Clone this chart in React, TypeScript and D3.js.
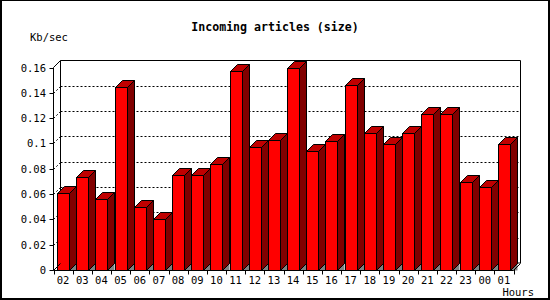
import React from "react";
import * as d3 from "d3";

const hours = ["02","03","04","05","06","07","08","09","10","11","12","13","14","15","16","17","18","19","20","21","22","23","00","01"];
const sizeValues = [0.061,0.0735,0.056,0.1445,0.0498,0.0403,0.075,0.075,0.0838,0.1572,0.0968,0.1027,0.1600,0.0940,0.1017,0.1459,0.1080,0.0995,0.1080,0.1230,0.1230,0.0693,0.0653,0.0995];
const yTicks = [0, 0.02, 0.04, 0.06, 0.08, 0.1, 0.12, 0.14, 0.16];
const gridTicks = [0.02, 0.04, 0.06, 0.08, 0.1, 0.12, 0.14];

const W = 550, H = 300;
const D = 7;
const X0 = 53.5, X1 = 513.5;
const Y0 = 270, Y1 = 67.5;
const FONT = "'DejaVu Sans Mono', 'Liberation Mono', monospace";

export default function App() {
  const x = d3.scaleBand<string>().domain(hours).range([X0, X1]).padding(0);
  const y = d3.scaleLinear().domain([0, 0.16]).range([Y0, Y1]);
  const bw = x.bandwidth();
  const barW = 12;
  const off = 3.5;
  const fmt = (v: number) => (v === 0 ? "0" : String(+v.toFixed(2)));
  const line = d3.line();

  return (
    <svg width={W} height={H} style={{ position: "absolute", left: 0, top: 0, display: "block" }}>
      <rect x={0} y={0} width={W} height={H} fill="#000" />
      <rect x={2} y={1} width={546} height={297} fill="#fff" />

      <text x={275} y={30.5} textAnchor="middle" fontFamily={FONT} fontWeight="bold" fontSize={11.6} fill="#000">Incoming articles (size)</text>
      <text x={30} y={41} fontFamily={FONT} fontSize={10.5} fill="#000">Kb/sec</text>
      <text x={534} y={296} textAnchor="end" fontFamily={FONT} fontSize={10.5} fill="#000">Hours</text>

      {/* back panel */}
      <g stroke="#000" strokeWidth={1} fill="none">
        <path d={`M${X0 + D},${Y0 - D}V${Y1 - D}H${X1 + D}V${Y0 - D}H${X0 + D}`} />
      </g>
      {/* grid lines */}
      <g stroke="#000" strokeWidth={1} strokeDasharray="2,2" fill="none">
        {gridTicks.map((t) => (
          <g key={t}>
            <path d={line([[X0 + D, Math.round(y(t)) - D + 0.5], [X1 + D, Math.round(y(t)) - D + 0.5]]) || ""} />
            <path d={line([[X0, Math.round(y(t)) + 0.5], [X0 + D, Math.round(y(t)) - D + 0.5]]) || ""} />
          </g>
        ))}
      </g>

      {/* bars */}
      {hours.map((h, i) => {
        const L = Math.round(x(h)! + off) + 0.5;
        const R = L + barW;
        const T = Math.round(y(sizeValues[i])) + 0.5;
        const B = Y0 + 0.5;
        return (
          <g key={h} stroke="#000" strokeWidth={1} strokeLinejoin="miter">
            <path d={`M${R},${B}L${R + D},${B - D}L${R + D},${B}Z`} fill="#808080" stroke="none" />
            <path d={`M${R},${B}L${R + D},${B - D}`} fill="none" />
            <rect x={L} y={T} width={barW} height={B - T} fill="#ff0000" />
            <path d={`M${L},${T}L${L + D},${T - D}L${R + D},${T - D}L${R},${T}Z`} fill="#c00000" />
            <path d={`M${R},${T}L${R + D},${T - D}L${R + D},${B - D}L${R},${B}Z`} fill="#800000" />
          </g>
        );
      })}

      {/* front axes */}
      <g stroke="#000" strokeWidth={1} fill="none">
        <path d={`M${X0},${Y0 + 0.5}V${Y1}L${X0 + D},${Y1 - D}`} />
        <path d={`M${X0},${Y0 + 0.5}H${X1}`} />
        <path d={`M${X0},${Y0 + 0.5}L${X0 + D},${Y0 - D + 0.5}`} />
        <path d={`M${X1},${Y0 + 0.5}L${X1 + D},${Y0 - D + 0.5}`} />
        {yTicks.map((t) => (
          <path key={t} d={`M${X0 - 4},${Math.round(y(t)) + 0.5}H${X0}`} />
        ))}
        {hours.map((h) => (
          <path key={h} d={`M${Math.round(x(h)!) + 0.5},${Y0}V${Y0 + 4.5}`} />
        ))}
        <path d={`M${Math.round(X1) + 0.5},${Y0}V${Y0 + 4.5}`} />
      </g>

      {yTicks.map((t) => (
        <text key={t} x={46} y={Math.round(y(t)) + 4} textAnchor="end" fontFamily={FONT} fontSize={10.5} fill="#000">{fmt(t)}</text>
      ))}
      {hours.map((h) => (
        <text key={h} x={x(h)! + bw / 2} y={284} textAnchor="middle" fontFamily={FONT} fontSize={10.5} fill="#000">{h}</text>
      ))}
    </svg>
  );
}
